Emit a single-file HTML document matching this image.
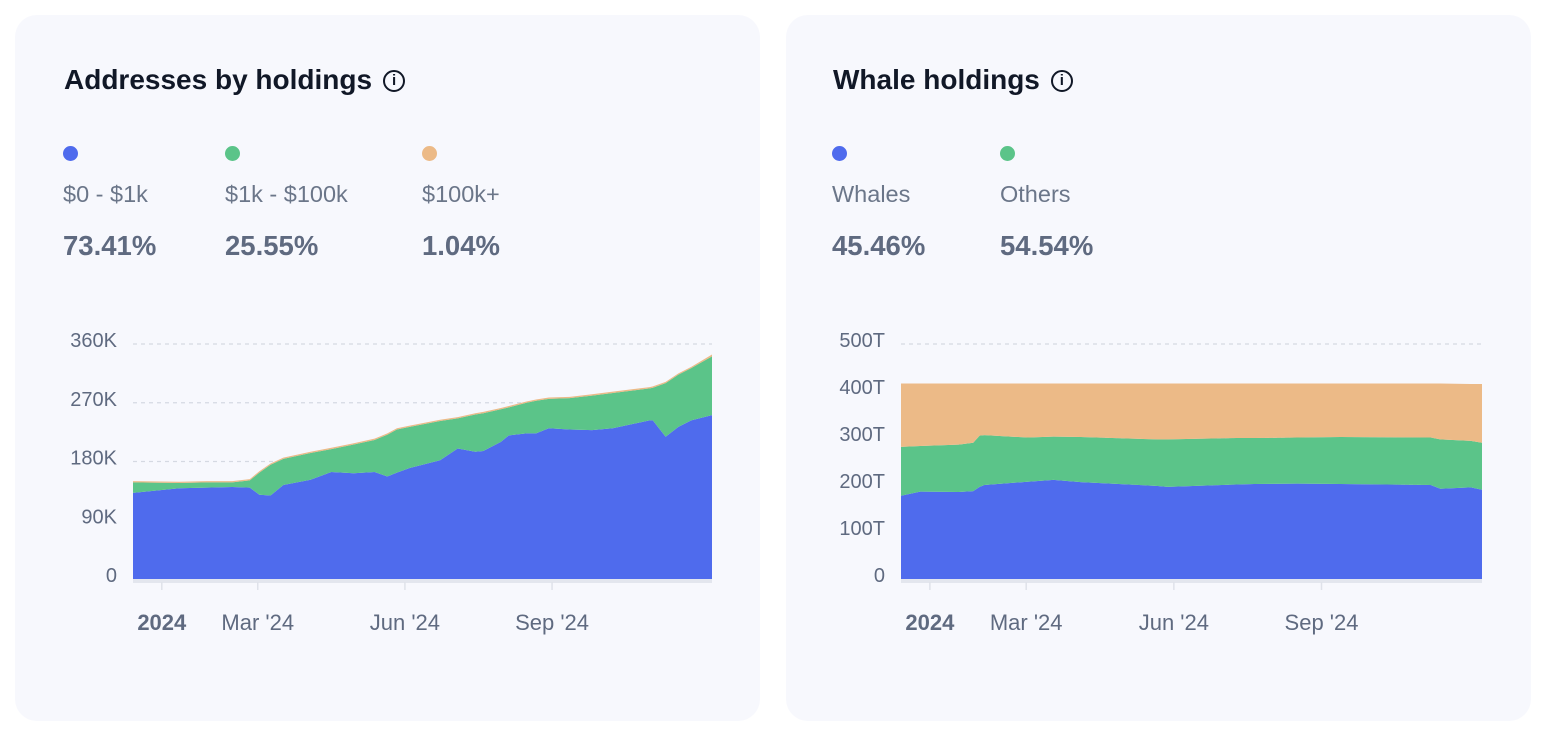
<!DOCTYPE html>
<html><head><meta charset="utf-8">
<style>
body{margin:0;width:1550px;height:742px;background:#fff;font-family:"Liberation Sans",sans-serif;position:relative;overflow:hidden}
.card{position:absolute;top:15px;width:745px;height:706px;background:#f7f8fd;border-radius:22px}
.title{position:absolute;top:64px;font-size:28px;font-weight:bold;color:#111827;white-space:nowrap}
.info{display:inline-block;width:22px;height:22px;border:2px solid #111827;border-radius:50%;vertical-align:-3px;margin-left:11px;position:relative;box-sizing:border-box}
.info:after{content:"i";position:absolute;left:0;right:0;top:0px;text-align:center;font-size:15px;font-weight:bold}
.leg{position:absolute;top:146px}
.dot{width:15px;height:15px;border-radius:50%}
.lab{margin-top:20px;font-size:23.5px;color:#6b7689;white-space:nowrap}
.val{margin-top:22px;font-size:27.5px;font-weight:bold;color:#5f6a80}
svg{position:absolute;left:0;top:0}
</style></head><body>
<div class="card" style="left:15px"></div>
<div class="card" style="left:786px"></div>

<div class="title" style="left:64px">Addresses by holdings<span class="info"></span></div>
<div class="leg" style="left:63px"><div class="dot" style="background:#4f6bed"></div><div class="lab">$0 - $1k</div><div class="val">73.41%</div></div>
<div class="leg" style="left:225px"><div class="dot" style="background:#5bc489"></div><div class="lab">$1k - $100k</div><div class="val">25.55%</div></div>
<div class="leg" style="left:422px"><div class="dot" style="background:#ecba87"></div><div class="lab">$100k+</div><div class="val">1.04%</div></div>

<div class="title" style="left:833px">Whale holdings<span class="info"></span></div>
<div class="leg" style="left:832px"><div class="dot" style="background:#4f6bed"></div><div class="lab">Whales</div><div class="val">45.46%</div></div>
<div class="leg" style="left:1000px"><div class="dot" style="background:#5bc489"></div><div class="lab">Others</div><div class="val">54.54%</div></div>

<svg id="chart" width="1550" height="742"></svg>
<script>
const leftDays=[0,29,46,62,73,79,86,94,111,124,138,151,159,165,173,192,203,214,219,230,235,246,252,260,273,287,300,323,325,333,341,349,362];
const leftSmall=[132,139,140,141,140,129,128,144,152,164,162,164,157,163,170,182,200,195,196,210,220,223,223,231,229,228,231,243,243,218,233,243,251];
const leftMid=[16,8,8,7,11,34,47,40,41,35,44,49,64,66,63,60,46,57,58,50,43,47,50,45,48,53,54,49,50,82,80,80,90];
const leftLarge=[2,2,2,2,2,2,2,2,2,2,2,2,2,2,2,2,2,2,2,2,2,2,2,2,2,2,2,2,2,2,2,2,3];
const leftTicks=[0,90,180,270,360];
const leftTickLabels=["0","90K","180K","270K","360K"];

const rightDays=[0,12,36,45,49,52,79,95,112,160,166,209,220,247,274,330,336,355,362];
const rightWhales=[177,186,185,187,196,200,207,211,206,198,196,201,202,203,202,200,192,195,190];
const rightOthers=[104,97,101,103,109,106,94,92,96,99,101,99,98,98,100,101,105,99,100];
const rightTop=[135,133,130,126,111,110,115,113,114,119,119,116,116,115,114,115,119,121,125];
const rightTicks=[0,100,200,300,400,500];
const rightTickLabels=["0","100T","200T","300T","400T","500T"];

const monthDays=[18,78,170,262];
const monthLabels=["2024","Mar '24","Jun '24","Sep '24"];
const colors=["#4f6bed","#5bc489","#ecba87"];
const NS="http://www.w3.org/2000/svg";
const svg=document.getElementById('chart');
function mk(tag,attrs,parent){const e=document.createElementNS(NS,tag);for(const k in attrs)e.setAttribute(k,attrs[k]);(parent||svg).appendChild(e);return e;}

function drawChart(x0,x1,maxV,days,series,ticks,tickLabels,name){
  const y0=579,yTop=344,dmax=362;
  const sx=d=>x0+d/dmax*(x1-x0);
  const sy=v=>y0-v/maxV*(y0-yTop);
  ticks.forEach((t,i)=>{
    if(t>0){const g=mk('line',{x1:x0,x2:x1,y1:sy(t),y2:sy(t),stroke:'#d5d9e2','stroke-dasharray':'4 4','stroke-width':1.2});
    
    }
    const tx=mk('text',{x:x0-16,y:sy(t)+3,'text-anchor':'end','font-size':20,fill:'#5f6a80'});
    tx.textContent=tickLabels[i];
    
    
  });
  let base=days.map(()=>0);
  series.forEach((s,si)=>{
    const top=base.map((b,i)=>b+s[i]);
    let d='M'+days.map((dd,i)=>sx(dd)+','+sy(top[i])).join('L');
    for(let i=days.length-1;i>=0;i--)d+='L'+sx(days[i])+','+sy(base[i]);
    const p=mk('path',{d:d+'Z',fill:colors[si]});
    
    
    base=top;
  });
  const ax=mk('rect',{x:x0,y:y0,width:x1-x0,height:4,fill:'#e3e6ee'});
  
  
  monthDays.forEach((md,i)=>{
    const x=sx(md);
    const tk=mk('line',{x1:x,x2:x,y1:y0+3,y2:y0+11,stroke:'#dfe2ea','stroke-width':1.5});
    
    
    const tx=mk('text',{x:x,y:630,'text-anchor':'middle','font-size':22,fill:'#5f6a80','font-weight':i==0?'bold':'normal'});
    tx.textContent=monthLabels[i];
    
    
  });
}
drawChart(133,712,360,leftDays,[leftSmall,leftMid,leftLarge],leftTicks,leftTickLabels,'addresses');
drawChart(901,1482,500,rightDays,[rightWhales,rightOthers,rightTop],rightTicks,rightTickLabels,'whale');
</script>
</body></html>
